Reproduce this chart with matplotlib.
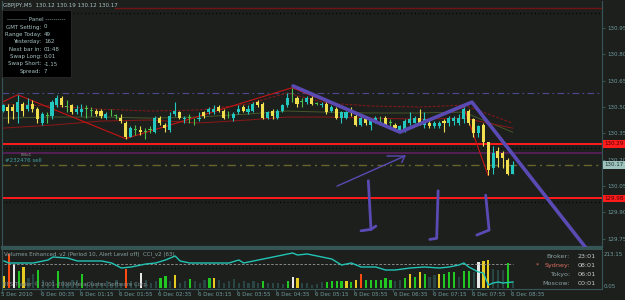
import matplotlib
matplotlib.use('Agg')
import matplotlib.pyplot as plt
import matplotlib.transforms as mtransforms
from matplotlib.patches import Rectangle
import numpy as np

# ---------------- data ----------------
symbol = "GBPJPY,M5"
last_ohlc = [130.12, 130.19, 130.12, 130.17]

opens = [130.48, 130.50, 130.50, 130.47, 130.52, 130.49, 130.52, 130.49, 130.41, 130.45,
         130.45, 130.51, 130.55, 130.50, 130.51, 130.47, 130.47, 130.49, 130.48, 130.48,
         130.48, 130.44, 130.47, 130.45, 130.44, 130.41, 130.33, 130.37, 130.37, 130.36,
         130.37, 130.36, 130.44, 130.40, 130.37, 130.46, 130.47, 130.43, 130.44, 130.43,
         130.43, 130.47, 130.47, 130.47, 130.50, 130.48, 130.47, 130.44, 130.47, 130.50,
         130.47, 130.48, 130.53, 130.52, 130.44, 130.48, 130.44, 130.48, 130.51, 130.55,
         130.55, 130.53, 130.53, 130.55, 130.52, 130.51, 130.52, 130.48, 130.49, 130.44,
         130.44, 130.49, 130.45, 130.40, 130.43, 130.40, 130.42, 130.41, 130.44, 130.41,
         130.40, 130.36, 130.37, 130.41, 130.41, 130.44, 130.40, 130.41, 130.39, 130.39,
         130.42, 130.41, 130.42, 130.41, 130.43, 130.48, 130.43, 130.35, 130.40, 130.30,
         130.15, 130.25, 130.24, 130.20, 130.12]
highs = [130.52, 130.52, 130.52, 130.57, 130.53, 130.55, 130.54, 130.50, 130.47, 130.47,
         130.54, 130.57, 130.56, 130.54, 130.52, 130.51, 130.52, 130.51, 130.50, 130.49,
         130.49, 130.47, 130.49, 130.46, 130.46, 130.42, 130.39, 130.40, 130.39, 130.38,
         130.39, 130.45, 130.45, 130.41, 130.47, 130.53, 130.48, 130.45, 130.46, 130.44,
         130.47, 130.48, 130.50, 130.51, 130.51, 130.49, 130.48, 130.47, 130.51, 130.51,
         130.51, 130.53, 130.54, 130.53, 130.48, 130.49, 130.49, 130.52, 130.58, 130.61,
         130.56, 130.55, 130.56, 130.56, 130.53, 130.53, 130.53, 130.51, 130.50, 130.48,
         130.48, 130.50, 130.47, 130.45, 130.44, 130.43, 130.45, 130.45, 130.45, 130.43,
         130.41, 130.40, 130.43, 130.47, 130.45, 130.49, 130.47, 130.43, 130.42, 130.42,
         130.43, 130.45, 130.45, 130.46, 130.50, 130.49, 130.44, 130.40, 130.41, 130.30,
         130.28, 130.27, 130.25, 130.21, 130.19]
lows = [130.47, 130.41, 130.43, 130.41, 130.45, 130.48, 130.47, 130.41, 130.40, 130.41,
        130.43, 130.50, 130.50, 130.47, 130.46, 130.46, 130.45, 130.44, 130.45, 130.45,
        130.44, 130.43, 130.45, 130.43, 130.41, 130.32, 130.33, 130.34, 130.34, 130.32,
        130.35, 130.35, 130.40, 130.36, 130.36, 130.45, 130.43, 130.41, 130.41, 130.40,
        130.42, 130.44, 130.46, 130.46, 130.47, 130.43, 130.44, 130.42, 130.46, 130.47,
        130.46, 130.47, 130.50, 130.43, 130.43, 130.43, 130.43, 130.47, 130.50, 130.53,
        130.50, 130.50, 130.52, 130.51, 130.51, 130.50, 130.46, 130.47, 130.43, 130.41,
        130.43, 130.45, 130.39, 130.39, 130.40, 130.37, 130.41, 130.40, 130.39, 130.39,
        130.37, 130.36, 130.36, 130.40, 130.41, 130.40, 130.38, 130.38, 130.38, 130.38,
        130.36, 130.39, 130.40, 130.40, 130.41, 130.40, 130.33, 130.33, 130.28, 130.11,
        130.12, 130.16, 130.15, 130.11, 130.12]
closes = [130.51, 130.48, 130.48, 130.53, 130.48, 130.51, 130.49, 130.43, 130.46, 130.45,
          130.53, 130.55, 130.51, 130.50, 130.47, 130.49, 130.49, 130.49, 130.48, 130.46,
          130.45, 130.46, 130.47, 130.45, 130.42, 130.33, 130.38, 130.37, 130.36, 130.36,
          130.37, 130.44, 130.41, 130.38, 130.45, 130.48, 130.44, 130.44, 130.44, 130.43,
          130.44, 130.45, 130.49, 130.49, 130.48, 130.44, 130.47, 130.46, 130.49, 130.48,
          130.49, 130.52, 130.51, 130.44, 130.47, 130.45, 130.48, 130.51, 130.55, 130.55,
          130.52, 130.53, 130.55, 130.52, 130.52, 130.52, 130.47, 130.50, 130.44, 130.47,
          130.47, 130.47, 130.40, 130.44, 130.41, 130.42, 130.44, 130.41, 130.40, 130.41,
          130.38, 130.39, 130.42, 130.43, 130.44, 130.41, 130.43, 130.39, 130.41, 130.41,
          130.41, 130.44, 130.44, 130.44, 130.49, 130.41, 130.35, 130.39, 130.30, 130.14,
          130.24, 130.21, 130.21, 130.12, 130.17]

volumes = [67, 190, 134, 95, 118, 56, 78, 101, 45, 28,
           45, 95, 39, 28, 45, 45, 78, 28, 39, 28,
           28, 39, 28, 45, 28, 106, 39, 28, 84, 45,
           28, 39, 56, 67, 39, 73, 28, 39, 50, 39,
           28, 45, 56, 56, 45, 28, 39, 50, 28, 39,
           28, 39, 28, 39, 28, 28, 28, 22, 39, 62,
           56, 28, 28, 17, 22, 34, 34, 39, 39, 39,
           39, 34, 45, 78, 45, 45, 45, 45, 56, 45,
           39, 45, 56, 78, 62, 90, 78, 62, 73, 78,
           78, 90, 90, 62, 95, 95, 90, 146, 151, 157,
           106, 101, 101, 140, 39]
volume_kind = ("yrwgyddgdd" "dgddddgddd" "dddddrddwd" "ddggdyddgd" "ddgydddddd"
               "dddgddddgw" "ydddddgggg" "ygyrgggggg" "ddgygygddy" "gggdggdwyy" "dddgd")

cci_bars = [0, 1, 6, 9, 10, 13, 15, 20, 22, 24, 26, 29, 31, 33, 35, 36, 38, 42, 46, 48,
            49, 51, 54, 57, 59, 60, 62, 65, 67, 69, 71, 73, 76, 78, 80, 83, 86, 89, 91, 93,
            94, 95, 97, 98, 99, 100, 101, 102, 104]
cci_vals = [30, 10, 10, 40, 70, 60, 30, 30, 10, -40, -30, 0, 10, 40, 80, 30, 10, 10, 10, 40,
            10, 30, 60, 90, 110, 90, 100, 70, 50, -10, 10, -30, -30, -60, -60, -40, -30, -40, -30, -10,
            10, -30, -80, -90, -210, -190, -180, -190, -180]

band_bars = [0, 10, 20, 30, 40, 50, 58, 66, 75, 85, 94, 104]
band_upper = [130.517, 130.506, 130.488, 130.477, 130.483, 130.517, 130.580, 130.523, 130.506, 130.500, 130.511, 130.409]
band_mid = [130.437, 130.443, 130.443, 130.437, 130.443, 130.460, 130.477, 130.471, 130.466, 130.466, 130.471, 130.357]
band_lower = [130.380, 130.397, 130.420, 130.426, 130.409, 130.426, 130.443, 130.443, 130.437, 130.431, 130.437, 130.380]

zz_bars = [0, 3, 25, 59, 81, 94, 99]
zz_prices = [130.53, 130.57, 130.32, 130.61, 130.36, 130.50, 130.11]

trend_bars = [59.2, 81.0, 95.7, 121.8]
trend_prices = [130.620, 130.357, 130.528, 129.596]
arrow_bars = [68.2, 82.0]
arrow_prices = [130.050, 130.221]
barb1_bars = [78.4, 82.0, 81.4]
barb1_prices = [130.221, 130.221, 130.186]
j1_bars = [74.55, 75.1, 73.06]
j1_prices = [130.080, 129.803, 129.795]
j1_tick_bars = [75.1, 76.1]
j1_tick_prices = [129.803, 129.822]
j2_bars = [88.8, 88.5, 87.1]
j2_prices = [130.023, 129.752, 129.746]
j3_bars = [98.5, 99.2, 96.7]
j3_prices = [129.998, 129.799, 129.771]

level_top = 131.064
level_dashdot = 130.578
level_red1 = 130.29
level_purple = 130.239
level_bid = 130.17
level_red2 = 129.98
dot_levels = [131.035, 130.268, 129.957]

price_ticks = [129.75, 129.90, 130.05, 130.20, 130.35, 130.50, 130.65, 130.80, 130.95]
time_tick_bars = [0, 8, 16, 24, 32, 40, 48, 56, 64, 72, 80, 88, 96, 104]
time_labels = ["5 Dec 2010", "6 Dec 00:35", "6 Dec 01:15", "6 Dec 01:55", "6 Dec 02:35",
               "6 Dec 03:15", "6 Dec 03:55", "6 Dec 04:35", "6 Dec 05:15", "6 Dec 05:55",
               "6 Dec 06:35", "6 Dec 07:15", "6 Dec 07:55", "6 Dec 08:35"]

panel_labels = ["GMT Setting:", "Range Today:", "Yesterday:", "Next bar in:", "Swap Long:", "Swap Short:", "Spread:"]
panel_values = ["0", "49", "162", "01:48", "0.01", "-1.15", "7"]
clock_labels = ["Broker:", "Sydney:", "Tokyo:", "Moscow:"]
clock_values = ["23:01", "08:01", "06:01", "00:01"]

# ---------------- style ----------------
BG = '#1d1f1d'
BORDER = '#365656'
AXTXT = '#6f9c9c'
BULL = '#22c8c0'
BEAR = '#f0e050'
DOJI = '#4cc04c'
BLUE = '#5a4ab4'
VCOL = {'d': '#2a4644', 'g': '#22c822', 'y': '#e6cc22', 'w': '#e8e8e8', 'r': '#ff4a10'}

W, H = 625, 300
fig = plt.figure(figsize=(W / 100, H / 100), dpi=100, facecolor=BG)

def fx(x):
    return x / W

def fy(y):
    return 1 - y / H

# main axes: px x 2..602, y 1..247
ax = fig.add_axes([fx(2), fy(247), 600 / W, 246 / H], facecolor=BG)
ax.set_xlim(-0.204, 122.24)
ax.set_ylim(129.7027, 131.104)
for s in ax.spines.values():
    s.set_color(BORDER)
ax.spines['bottom'].set_linewidth(1.6)
ax.spines['top'].set_visible(False)
ax.yaxis.tick_right()
ax.set_yticks(price_ticks)
ax.set_yticklabels([f"{v:.2f}" for v in price_ticks])
ax.tick_params(axis='y', colors=BORDER, labelcolor=AXTXT, labelsize=4, length=2, pad=1.5, width=0.8)
ax.set_xticks([])

xs = np.arange(len(opens))
# horizontal levels
ax.plot([22.8, 122.24], [level_top, level_top], color='#701414', lw=1.0, zorder=1)
ax.axhline(level_dashdot, color='#4a4a8e', lw=0.8, ls=(0, (6, 3, 1.5, 3)), zorder=1)
ax.axhline(level_red1, color='#ff1c1c', lw=1.4, zorder=2)
ax.axhline(level_purple, color='#5e1e5e', lw=1.2, zorder=1)
ax.axhline(level_bid, color='#66662a', lw=1.0, ls=(0, (6, 3, 1.5, 3)), zorder=1)
ax.axhline(level_red2, color='#ff1c1c', lw=1.4, zorder=2)
for lv in dot_levels:
    ax.axhline(lv, color='#000000', lw=0.9, ls=(0, (0.8, 2.2)), zorder=1)

# bands
ax.plot(band_bars, band_upper, color='#8a1818', lw=0.7, ls=(0, (3, 1.5)), zorder=2)
ax.plot(band_bars, band_mid, color='#46562a', lw=0.7, zorder=2)
ax.plot(band_bars, band_lower, color='#8a1818', lw=0.7, zorder=2)
ax.plot(zz_bars, zz_prices, color='#c41414', lw=0.8, zorder=2)

# candles
o = np.array(opens); c = np.array(closes); h = np.array(highs); l = np.array(lows)
cols = np.where(c > o, BULL, np.where(c < o, BEAR, DOJI))
ax.vlines(xs, l, h, colors=cols, lw=0.8, zorder=3)
bot = np.minimum(o, c)
ht = np.maximum(np.abs(c - o), 0.004)
ax.bar(xs, ht, bottom=bot, width=0.62, color=cols, edgecolor='none', zorder=4)

# hand-drawn objects
ax.plot(trend_bars, trend_prices, color=BLUE, lw=2.6, solid_capstyle='round', zorder=5)
ax.plot(arrow_bars, arrow_prices, color=BLUE, lw=1.0, zorder=5)
ax.plot(barb1_bars, barb1_prices, color=BLUE, lw=1.0, zorder=5)
for bx, by in [(j1_bars, j1_prices), (j1_tick_bars, j1_tick_prices), (j2_bars, j2_prices), (j3_bars, j3_prices)]:
    ax.plot(bx, by, color=BLUE, lw=2.0, solid_joinstyle='round', solid_capstyle='round', zorder=5)

# price boxes on axis
bt = mtransforms.blended_transform_factory(ax.transAxes, ax.transData)
for val, fc, tc in [(level_red1, '#ff1c1c', '#4a0000'), (level_red2, '#ff1c1c', '#4a0000'),
                    (last_ohlc[3], '#9cc4bc', '#1e3030')]:
    ax.text(1.004, val, f"{val:.2f}", transform=bt, fontsize=4, color=tc, va='center', ha='left',
            bbox=dict(boxstyle='square,pad=0.22', fc=fc, ec='none'), clip_on=False, zorder=10)

# indicator pane: px y 249..289
axv = fig.add_axes([fx(2), fy(289), 600 / W, 40 / H], facecolor=BG)
axv.set_xlim(-0.204, 122.24)
axv.set_ylim(-8, 216)
for s in axv.spines.values():
    s.set_color(BORDER)
axv.spines['top'].set_linewidth(1.4)
axv.set_yticks([])
axv.set_xticks([b - 0.4 for b in time_tick_bars])
axv.set_xticklabels([])
axv.tick_params(axis='x', colors=BORDER, length=2, width=0.8)
axv.bar(xs, volumes, width=0.45, color=[VCOL[k] for k in volume_kind], zorder=2)
axc = axv.twinx()
axc.set_ylim(-250, 150)
axc.set_yticks([])
axc.axis('off')
axc.plot([0, 104], [0, 0], color='#9a9a9a', lw=0.6, ls=(0, (3, 2)), zorder=1)
axc.plot(cci_bars, cci_vals, color='#22c4b4', lw=1.0, zorder=3)

# ---------------- texts ----------------
TXT = '#a8c2c2'
fig.text(fx(3), fy(6), f"{symbol}  " + " ".join(f"{v:.2f}" for v in last_ohlc),
         fontsize=4, color=TXT, va='center', ha='left')
fig.patches.append(Rectangle((fx(2), fy(77)), 69 / W, 67 / H, transform=fig.transFigure,
                             fc='#000000', ec='#2a2a2a', lw=0.6, zorder=6))
fig.text(fx(36), fy(19.5), "---------- Panel ----------", fontsize=4, color=TXT, ha='center', va='center', zorder=7)
for k, (lab, val) in enumerate(zip(panel_labels, panel_values)):
    yy = 27 + k * 7.4
    fig.text(fx(41.5), fy(yy), lab, fontsize=4, color=TXT, ha='right', va='center', zorder=7)
    fig.text(fx(44), fy(yy), val, fontsize=4, color=TXT, ha='left', va='center', zorder=7)

fig.text(fx(5), fy(160), "#232476 sell", fontsize=4, color='#3fa0a0', ha='left', va='center')
fig.text(fx(21), fy(154.5), "FiBo1", fontsize=3, color='#909090', ha='left', va='center')

fig.text(fx(4), fy(254), "Volumes Enhanced_v2 (Period 10, Alert Level off)", fontsize=4, color='#86a0a0',
         ha='left', va='center', zorder=8)
fig.text(fx(143), fy(254), "CCI_v2 (63)", fontsize=4, color='#86a0a0', ha='left', va='center', zorder=8)
fig.text(fx(3), fy(284.5), "BFS Trader \u00a9 2001-2009 MetaQuotes Software Corp.", fontsize=4,
         color='#7c8c8c', ha='left', va='center', zorder=8)
fig.text(fx(604), fy(255), "213.15", fontsize=4, color=AXTXT, ha='left', va='center')
fig.text(fx(604), fy(287), "0.05", fontsize=4, color=AXTXT, ha='left', va='center')

for k, (lab, val) in enumerate(zip(clock_labels, clock_values)):
    yy = 256 + k * 9.3
    lc = '#e07060' if lab == "Sydney:" else '#8aa2a2'
    fig.text(fx(570), fy(yy), lab, fontsize=4.6, color=lc, ha='right', va='center', zorder=8)
    fig.text(fx(578), fy(yy), val, fontsize=4.6, color='#c4cccc', ha='left', va='center', zorder=8)
fig.text(fx(536), fy(265), "*", fontsize=4.6, color='#e07060', ha='left', va='center', zorder=8)

for b, lab in zip(time_tick_bars, time_labels):
    xpix = 3 + 4.9 * b - 1.5
    fig.text(fx(xpix), fy(294.5), lab, fontsize=4, color=AXTXT, ha='left', va='center')

fig.savefig('out.png', dpi=100, facecolor=BG)
